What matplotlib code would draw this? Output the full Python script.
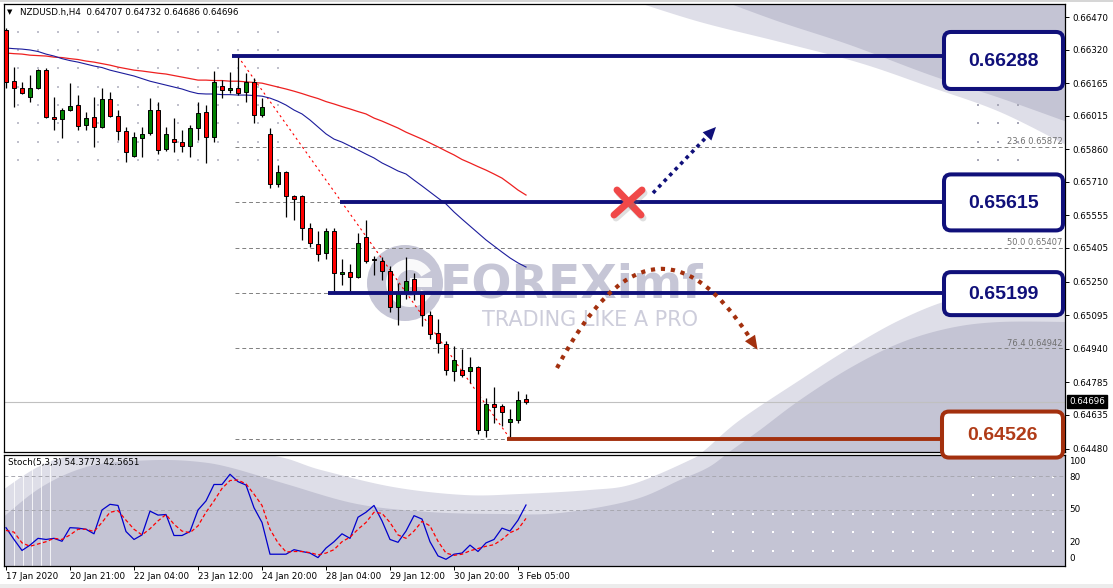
import numpy as np
import matplotlib.pyplot as plt
from matplotlib.patches import Rectangle, Polygon, FancyBboxPatch, Circle, Wedge, PathPatch
from matplotlib.path import Path
import matplotlib.transforms as mtrans

# NZDUSD.h H4, 17 Jan 2020 - 3 Feb 2020
opens = [0.66410, 0.66175, 0.66142, 0.66101, 0.66142, 0.66225, 0.66009, 0.65999, 0.66041, 0.66064,
         0.65972, 0.66009, 0.65963, 0.66092, 0.66013, 0.65944, 0.65829, 0.65912, 0.65935, 0.66041,
         0.65861, 0.65907, 0.65893, 0.65875, 0.65958, 0.66032, 0.65916, 0.66152, 0.66133, 0.66142,
         0.66124, 0.66170, 0.66018, 0.65930, 0.65700, 0.65755, 0.65644, 0.65644, 0.65497, 0.65423,
         0.65382, 0.65483, 0.65285, 0.65294, 0.65271, 0.65455, 0.65354, 0.65345, 0.65299, 0.65133,
         0.65202, 0.65262, 0.65197, 0.65096, 0.65013, 0.64962, 0.64838, 0.64842, 0.64838, 0.64856,
         0.64566, 0.64686, 0.64676, 0.64603, 0.64612, 0.64707]
highs = [0.66419, 0.66239, 0.66170, 0.66202, 0.66230, 0.66235, 0.66101, 0.66050, 0.66165, 0.66110,
         0.66032, 0.66101, 0.66142, 0.66124, 0.66041, 0.65963, 0.65940, 0.65963, 0.66096, 0.66078,
         0.65963, 0.66004, 0.65949, 0.65972, 0.66078, 0.66064, 0.66221, 0.66179, 0.66216, 0.66288,
         0.66211, 0.66188, 0.66096, 0.65958, 0.65787, 0.65760, 0.65649, 0.65649, 0.65520, 0.65483,
         0.65497, 0.65497, 0.65354, 0.65331, 0.65474, 0.65534, 0.65368, 0.65363, 0.65322, 0.65243,
         0.65363, 0.65290, 0.65202, 0.65114, 0.65077, 0.64976, 0.64951, 0.64939, 0.64902, 0.64861,
         0.64713, 0.64764, 0.64686, 0.64663, 0.64745, 0.64732]
lows = [0.66142, 0.66055, 0.66115, 0.66078, 0.66138, 0.66004, 0.65949, 0.65912, 0.66036, 0.65949,
        0.65949, 0.65870, 0.65958, 0.66009, 0.65903, 0.65801, 0.65824, 0.65824, 0.65926, 0.65838,
        0.65852, 0.65847, 0.65847, 0.65824, 0.65903, 0.65797, 0.65893, 0.66096, 0.66119, 0.66110,
        0.66078, 0.65981, 0.66009, 0.65681, 0.65686, 0.65548, 0.65534, 0.65442, 0.65409, 0.65345,
        0.65354, 0.65197, 0.65234, 0.65202, 0.65266, 0.65336, 0.65280, 0.65257, 0.65110, 0.65050,
        0.65170, 0.65165, 0.65045, 0.64985, 0.64921, 0.64819, 0.64792, 0.64810, 0.64782, 0.64547,
        0.64533, 0.64598, 0.64584, 0.64526, 0.64598, 0.64686]
closes = [0.66170, 0.66142, 0.66119, 0.66142, 0.66225, 0.66009, 0.65999, 0.66041, 0.66059, 0.65967,
          0.66004, 0.65963, 0.66092, 0.66013, 0.65944, 0.65847, 0.65916, 0.65930, 0.66041, 0.65857,
          0.65930, 0.65893, 0.65875, 0.65958, 0.66027, 0.65916, 0.66170, 0.66133, 0.66142, 0.66119,
          0.66170, 0.66018, 0.66055, 0.65700, 0.65755, 0.65644, 0.65631, 0.65497, 0.65428, 0.65377,
          0.65483, 0.65290, 0.65294, 0.65271, 0.65428, 0.65345, 0.65349, 0.65299, 0.65133, 0.65202,
          0.65253, 0.65202, 0.65096, 0.65008, 0.64967, 0.64842, 0.64888, 0.64819, 0.64856, 0.64566,
          0.64686, 0.64672, 0.64649, 0.64616, 0.64704, 0.64696]

# moving averages (red = slow, blue = fast)
ma_slow = [0.66304, 0.66301, 0.66299, 0.66294, 0.66292, 0.66290, 0.66285, 0.66283, 0.66278, 0.66274,
           0.66267, 0.66262, 0.66255, 0.66248, 0.66239, 0.66232, 0.66225, 0.66221, 0.66216, 0.66211,
           0.66207, 0.66200, 0.66193, 0.66186, 0.66179, 0.66179, 0.66177, 0.66177, 0.66174, 0.66174,
           0.66171, 0.66168, 0.66165, 0.66156, 0.66147, 0.66138, 0.66128, 0.66117, 0.66105, 0.66094,
           0.66080, 0.66069, 0.66057, 0.66046, 0.66034, 0.66023, 0.66004, 0.65990, 0.65974, 0.65958,
           0.65939, 0.65923, 0.65907, 0.65889, 0.65871, 0.65852, 0.65834, 0.65813, 0.65797, 0.65780,
           0.65764, 0.65746, 0.65727, 0.65700, 0.65672, 0.65649]
ma_fast = [0.66327, 0.66324, 0.66322, 0.66318, 0.66311, 0.66299, 0.66290, 0.66278, 0.66269, 0.66262,
           0.66253, 0.66244, 0.66237, 0.66225, 0.66216, 0.66207, 0.66198, 0.66186, 0.66174, 0.66165,
           0.66156, 0.66147, 0.66138, 0.66126, 0.66117, 0.66115, 0.66115, 0.66112, 0.66112, 0.66110,
           0.66110, 0.66108, 0.66105, 0.66096, 0.66082, 0.66064, 0.66041, 0.66023, 0.65995, 0.65963,
           0.65931, 0.65907, 0.65893, 0.65875, 0.65857, 0.65838, 0.65820, 0.65797, 0.65779, 0.65760,
           0.65746, 0.65718, 0.65691, 0.65663, 0.65635, 0.65608, 0.65571, 0.65538, 0.65506, 0.65474,
           0.65442, 0.65414, 0.65386, 0.65359, 0.65336, 0.65317]

# Stochastic(5,3,3)
stoch_k = [34.4, 24, 14.3, 19, 25, 24, 25, 22.4, 34.4, 34, 33, 29, 50, 55, 54, 31, 24, 28, 49, 45.5,
           46, 27.5, 27.5, 31, 50, 58, 72.5, 72.5, 81.5, 75, 72, 52, 39, 11, 11, 11, 15, 13.4, 12, 8,
           16.4, 22, 29, 25, 43.6, 48, 54, 40.4, 24, 21.5, 31.4, 45, 42, 22, 9.5, 6.5, 11, 12, 19, 13.4,
           21, 24, 34, 31.4, 41, 54.38]
stoch_d = [32, 30.5, 21, 18, 20, 22, 25, 24, 28, 33, 33, 31, 39, 48, 49.4, 41, 33, 28, 33.5, 40.4,
           46, 37.4, 31.4, 30, 36, 48, 58, 69, 76, 76.4, 73, 64, 54, 33, 21, 13, 13.4, 13.4, 12.4, 10.4,
           12, 15, 22, 26, 33, 39, 48, 47, 39, 28, 25, 31.4, 40, 36, 22.4, 12, 10, 11, 14, 16,
           18, 19.4, 24, 30, 33, 42.57]

price_ticks = [0.66470, 0.66320, 0.66165, 0.66015, 0.65860, 0.65710, 0.65555,
               0.65405, 0.65250, 0.65095, 0.64940, 0.64785, 0.64635, 0.64480]
time_ticks = [0, 8, 16, 24, 32, 40, 48, 56, 64]
time_labels = ["17 Jan 2020", "20 Jan 21:00", "22 Jan 04:00", "23 Jan 12:00", "24 Jan 20:00",
               "28 Jan 04:00", "29 Jan 12:00", "30 Jan 20:00", "3 Feb 05:00"]
stoch_levels = [80, 50]
stoch_labels = ["100", "80", "50", "20", "0"]

fib_values = [0.66288, 0.65872, 0.65615, 0.65407, 0.65199, 0.64942, 0.64526]
fib_names = ["0.0", "23.6", "38.2", "50.0", "61.8", "76.4", "100.0"]
key_levels = [0.66288, 0.65615, 0.65199]
support_level = 0.64526
bid = closes[-1]

NAVY = "#10107a"
BROWN = "#a3300e"
WM_DARK = "#c4c4d4"
WM_LIGHT = "#dedee8"
W, H = 1113, 588


def smooth(pts, n=12):
    # Catmull-Rom curve through the given points (decoration only)
    pts = np.asarray(pts, float)
    p = np.vstack([pts[0], pts, pts[-1]])
    out = []
    for i in range(1, len(p) - 2):
        p0, p1, p2, p3 = p[i - 1], p[i], p[i + 1], p[i + 2]
        for t in np.linspace(0, 1, n, endpoint=False):
            out.append(0.5 * (2 * p1 + (-p0 + p2) * t + (2 * p0 - 5 * p1 + 4 * p2 - p3) * t ** 2
                              + (-p0 + 3 * p1 - 3 * p2 + p3) * t ** 3))
    out.append(pts[-1])
    return np.array(out)


def frac(x0, y0, x1, y1):
    return [x0 / W, 1 - y1 / H, (x1 - x0) / W, (y1 - y0) / H]


fig = plt.figure(figsize=(W / 100, H / 100), dpi=100)
fig.patch.set_facecolor("white")

bg = fig.add_axes([0, 0, 1, 1], zorder=0)
bg.set_xlim(0, W)
bg.set_ylim(H, 0)
bg.axis("off")

ax = fig.add_axes(frac(4, 4, 1065, 452), zorder=1)
ax.set_facecolor("none")
st = fig.add_axes(frac(4, 455, 1065, 566), zorder=1)
st.set_facecolor("none")

top = fig.add_axes([0, 0, 1, 1], zorder=3)
top.set_xlim(0, W)
top.set_ylim(H, 0)
top.axis("off")

# ---- watermark background ----
main_clip = Rectangle((4, 4), 1061, 448, transform=bg.transData)
st_clip = Rectangle((4, 455), 1061, 111, transform=bg.transData)

tr_light = smooth([(630, 0), (700, 22), (780, 42), (860, 63), (930, 87), (1000, 112), (1070, 147)])
tr_dark = smooth([(720, 0), (780, 22), (850, 45), (930, 75), (1000, 98), (1070, 123)])
b_light = smooth([(0, 492), (40, 466), (80, 455), (170, 452), (268, 455), (321, 470), (393, 487),
                  (464, 495), (520, 494), (590, 490), (633, 484), (690, 460), (705, 450), (740, 420),
                  (800, 380), (850, 348), (900, 320), (950, 300), (1000, 292), (1070, 290)])
b_dark = smooth([(0, 520), (30, 495), (54, 480), (80, 469), (107, 463), (160, 460), (200, 462),
                 (232, 468), (286, 484), (357, 504), (429, 512), (500, 514), (560, 513), (633, 500),
                 (680, 480), (709, 467), (732, 450), (760, 430), (800, 400), (850, 368), (900, 343),
                 (950, 328), (1000, 322), (1070, 322)])

shapes = [
    (np.vstack([tr_light, [(1070, 0)]]), WM_LIGHT),
    (np.vstack([tr_dark, [(1070, 0)]]), WM_DARK),
    (np.vstack([b_light, [(1070, 600), (0, 600)]]), WM_LIGHT),
    (np.vstack([b_dark, [(1070, 600), (0, 600)]]), WM_DARK),
]
for pts, col in shapes:
    for clip in (main_clip, st_clip):
        pg = Polygon(pts, closed=True, fc=col, ec="none")
        bg.add_patch(pg)
        pg.set_clip_path(clip)

# logo + text watermark
bg.add_patch(Circle((405, 283), 38, fc="#c6c6d6", ec="none"))
bg.add_patch(Wedge((410, 283), 24, 30, 330, width=11, fc="white", ec="none", alpha=0.9))
bg.add_patch(Rectangle((410, 278), 22, 9, fc="white", ec="none", alpha=0.9))
bg.text(440, 285, "FOREXimf", fontsize=34, fontweight="bold", color="#c6c6d6",
        va="center", ha="left")
bg.text(482, 320, "TRADING LIKE A PRO", fontsize=15, color="#cdcddb", va="center", ha="left")

# grid dots visible in the screenshot
gx, gy = np.meshgrid(np.arange(18, 279, 20), [32, 50, 68, 87, 105, 123, 142, 160])
bg.scatter(gx.ravel(), gy.ravel(), s=2, c="#c0c0cc", marker="s", lw=0)
gx, gy = np.meshgrid([978, 998, 1018], [105, 123, 142, 160])
bg.scatter(gx.ravel(), gy.ravel(), s=2, c="#a8a8b8", marker="s", lw=0)
gx, gy = np.meshgrid(np.arange(713, 1055, 20), [514, 532, 551])
bg.scatter(gx.ravel(), gy.ravel(), s=2, c="white", marker="s", lw=0)
gx, gy = np.meshgrid(np.arange(973, 1055, 20), [477, 495])
bg.scatter(gx.ravel(), gy.ravel(), s=2, c="white", marker="s", lw=0)
for xv in [14, 23, 32, 41, 50]:
    bg.plot([xv, xv], [456, 565], color="white", lw=0.7, alpha=0.8)

# window frame
bg.add_patch(Rectangle((0, 0), W, 2, fc="#d6d6d6", ec="none"))
bg.add_patch(Rectangle((0, 584), W, 4, fc="#ececec", ec="none"))

# ---- main price chart ----
n = len(closes)
idx = np.arange(n)
ax.set_xlim(-0.25, 132.375)
ax.set_ylim(0.64464, 0.66530)

ax.axhline(bid, color="#c0c0c0", lw=0.8, zorder=1)
for lvl, name in zip(fib_values, fib_names):
    ax.hlines(lvl, 28.6, 132.4, colors="#808080", linestyles=(0, (4, 3)), lw=0.7, zorder=1)
    if name in ("23.6", "50.0", "76.4"):
        ax.text(132.1, lvl + 0.00003, f"{name} {lvl:.5f}", ha="right", va="bottom",
                fontsize=6, color="#707070", zorder=2)
ax.plot([29, 63], [fib_values[0], fib_values[-1]], color="red", lw=0.8,
        ls=(0, (2, 3)), zorder=2)

ax.plot(idx, ma_slow, color="#ee2020", lw=0.9, zorder=2)
ax.plot(idx, ma_fast, color="#1c1c9c", lw=0.8, zorder=2)

for i in range(n):
    o, h, l, c = opens[i], highs[i], lows[i], closes[i]
    ax.vlines(i, l, h, color="black", lw=0.9, zorder=3)
    lo, hi = min(o, c), max(o, c)
    ax.add_patch(Rectangle((i - 0.3, lo), 0.6, max(hi - lo, 0.00005),
                           fc="#ff0000" if c < o else "#008000", ec="black", lw=0.7, zorder=4))

# key levels
starts = [28.25, 41.75, 40.25]
for lvl, x0 in zip(key_levels, starts):
    ax.plot([x0, 117.4], [lvl, lvl], color=NAVY, lw=2.8, solid_capstyle="butt", zorder=5)
ax.plot([62.6, 117.0], [support_level, support_level], color=BROWN, lw=2.8,
        solid_capstyle="butt", zorder=5)

ax.yaxis.tick_right()
ax.set_yticks(price_ticks)
ax.set_yticklabels([f"{p:.5f}" for p in price_ticks])
ax.tick_params(axis="y", length=3, width=0.7, labelsize=6.3, pad=2, colors="black")
ax.tick_params(axis="x", bottom=False, labelbottom=False)
for s in ax.spines.values():
    s.set_color("black")
    s.set_linewidth(0.9)

ax.annotate(f"{bid:.5f}", xy=(1.0, bid), xycoords=("axes fraction", "data"),
            xytext=(3, 0), textcoords="offset points", va="center", ha="left",
            fontsize=6.3, color="white",
            bbox=dict(boxstyle="square,pad=0.2", fc="black", ec="black"))

# ---- stochastic ----
st.set_xlim(-0.25, 132.375)
st.set_ylim(0.6, 98.5)
for lv in stoch_levels:
    st.axhline(lv, color="#a8a8b0", lw=0.7, ls=(0, (4, 3)))
st.plot(idx, stoch_k, color="#0000cc", lw=0.9)
st.plot(idx, stoch_d, color="#ff0000", lw=0.9, ls=(0, (3, 2)))
st.set_yticks([])
st.set_xticks(time_ticks)
st.set_xticklabels(time_labels, ha="left")
st.tick_params(axis="x", length=3, width=0.7, labelsize=6.3, pad=1.5)
for s in st.spines.values():
    s.set_color("black")
    s.set_linewidth(0.9)
blend = mtrans.blended_transform_factory(st.transAxes, st.transData)
for lab, v in zip(stoch_labels, [93, 79, 50, 21, 7]):
    st.text(1.004, v, lab, transform=blend, fontsize=6.3, va="center", ha="left")
st.text(0.004, 0.93, "Stoch(5,3,3) 54.3773 42.5651", transform=st.transAxes,
        fontsize=6.3, va="center", ha="left")

top.text(7, 12, "\u25bc", fontsize=5, va="center", ha="left")
top.text(20, 12, "NZDUSD.h,H4  0.64707 0.64732 0.64686 0.64696", fontsize=6.3,
         va="center", ha="left")

# ---- boxes, arrows, marks (pixel coordinates on the overlay) ----
def to_px(x, y):
    d = ax.transData.transform((x, y))
    return top.transData.inverted().transform(d)


fig.canvas.draw()
box_specs = [(key_levels[0], 57, 944, NAVY, NAVY, 4), (key_levels[1], 56, 944, NAVY, NAVY, 0),
             (key_levels[2], 43, 944, NAVY, NAVY, 1), (support_level, 46, 942, BROWN, "#b03c18", -4)]
for lvl, hpx, xl, ec, tc, dy in box_specs:
    yc = to_px(0, lvl)[1] + dy
    top.add_patch(FancyBboxPatch((xl, yc - hpx / 2), 1063 - xl, hpx,
                                 boxstyle="round,pad=0,rounding_size=7",
                                 fc="white", ec=ec, lw=2.9))
    top.text((xl + 1063) / 2, yc + 1, f"{lvl:.5f}", fontsize=14, fontweight="bold",
             family="Liberation Sans", color=tc, ha="center", va="center")

# navy dotted arrow
p0, tip = np.array([653, 193]), np.array([716, 127])
u = (tip - p0) / np.linalg.norm(tip - p0)
perp = np.array([-u[1], u[0]])
base = tip - 13 * u
top.plot([p0[0], base[0]], [p0[1], base[1]], color=NAVY, lw=2.6, ls=(0, (1, 1.2)),
         solid_capstyle="butt")
top.add_patch(Polygon([tip, base + 6 * perp, base - 6 * perp], closed=True, fc=NAVY, ec="none"))

# brown dotted arc
P0, P1, P2 = (557, 368), (652, 186), (750, 338)
arc = Path([P0, P1, P2], [Path.MOVETO, Path.CURVE3, Path.CURVE3])
top.add_patch(PathPatch(arc, fill=False, ec=BROWN, lw=3.0, ls=(0, (1, 1.4))))
u = np.array([P2[0] - P1[0], P2[1] - P1[1]], float)
u /= np.linalg.norm(u)
perp = np.array([-u[1], u[0]])
b = np.array(P2, float)
t2 = b + 14 * u
top.add_patch(Polygon([t2, b + 6 * perp, b - 6 * perp], closed=True, fc=BROWN, ec="none"))

# red cross
for (xa, ya), (xb, yb) in [((617, 190), (641, 215)), ((642, 190), (614, 215))]:
    top.plot([xa + 2, xb + 2], [ya + 3, yb + 3], color="gray", lw=5, alpha=0.25,
             solid_capstyle="round")
    top.plot([xa, xb], [ya, yb], color="#f04848", lw=5, solid_capstyle="round")

fig.savefig("out.png", dpi=100, facecolor=fig.get_facecolor())
